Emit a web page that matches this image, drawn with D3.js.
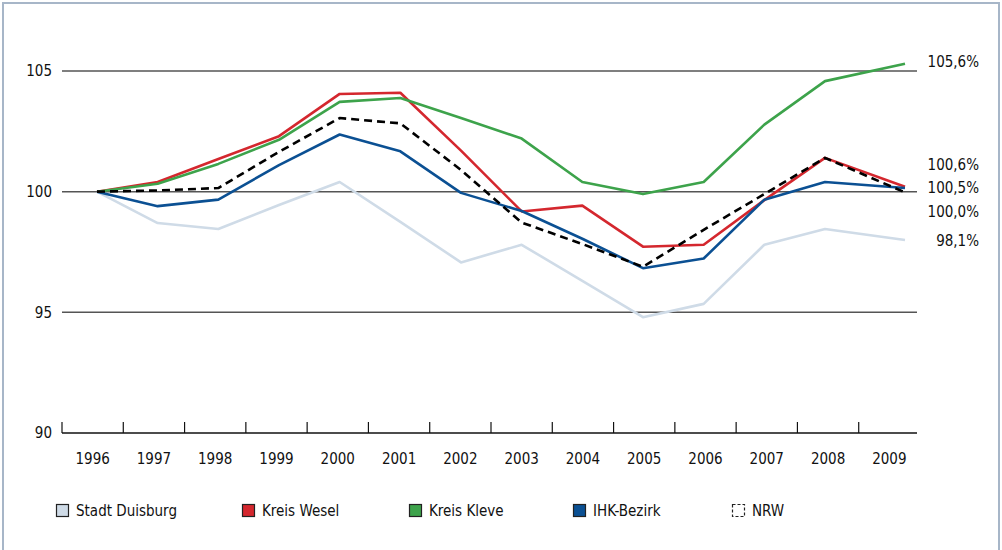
<!DOCTYPE html>
<html>
<head>
<meta charset="utf-8">
<script src="https://cdn.jsdelivr.net/npm/d3@7"></script>
<style>
  body { margin: 0; background: #fff; }
  svg text { font-family: "DejaVu Sans Condensed", "DejaVu Sans", sans-serif; fill: #111; }
</style>
</head>
<body>
<div id="chart"></div>
<script>
// data (index, 1996 = 100)
var years = [1996, 1997, 1998, 1999, 2000, 2001, 2002, 2003, 2004, 2005, 2006, 2007, 2008, 2009];
var stadtDuisburg = [100, 98.7, 98.45, 99.45, 100.4, 98.75, 97.07, 97.8, 96.3, 94.8, 95.35, 97.8, 98.45, 98.0];
var kreisWesel    = [100, 100.4, 101.35, 102.3, 104.05, 104.1, 101.7, 99.18, 99.42, 97.72, 97.8, 99.65, 101.4, 100.2];
var kreisKleve    = [100, 100.33, 101.15, 102.15, 103.72, 103.88, 103.05, 102.2, 100.4, 99.9, 100.4, 102.78, 104.58, 105.3];
var ihkBezirk     = [100, 99.4, 99.67, 101.1, 102.37, 101.67, 99.95, 99.2, 98.05, 96.83, 97.23, 99.67, 100.4, 100.15];
var nrw           = [100, 100.05, 100.15, 101.65, 103.05, 102.83, 100.9, 98.72, 97.83, 96.89, 98.42, 99.9, 101.4, 99.97];
var seriesNames = ["Stadt Duisburg", "Kreis Wesel", "Kreis Kleve", "IHK-Bezirk", "NRW"];
var yTicks = [90, 95, 100, 105];
var endLabels = ["105,6%", "100,6%", "100,5%", "100,0%", "98,1%"];
var endLabelAt = [105.4, 101.12, 100.15, 99.16, 97.95];

var colors = ["#cfdbe7", "#d4272e", "#3da34b", "#0b5093", "#000000"];
var allSeries = [stadtDuisburg, kreisWesel, kreisKleve, ihkBezirk, nrw];
var legendX = [56, 242, 409, 573, 732];

var width = 1002, height = 550;
var fontSize = 15;

var svg = d3.select("#chart").append("svg")
    .attr("width", width)
    .attr("height", height);

// frame
svg.append("rect")
    .attr("x", 3).attr("y", 3)
    .attr("width", 996).attr("height", 560)
    .attr("fill", "none")
    .attr("stroke", "#a7b6c8")
    .attr("stroke-width", 2);

var y = d3.scaleLinear().domain([90, 105]).range([433, 71]);

// the band scale gives tick marks and year labels
var band = d3.scaleBand().domain(years).range([62, 920]);

// data positions: the last year sits further right in the original
var x = d3.scaleLinear()
    .domain([1996, 2008, 2009])
    .range([97, 825, 905]);

// grid lines
svg.append("g").selectAll("line")
    .data(yTicks.filter(function(d) { return d > 90; }))
    .enter().append("line")
    .attr("x1", 62).attr("x2", 917)
    .attr("y1", function(d) { return y(d); })
    .attr("y2", function(d) { return y(d); })
    .attr("stroke", "#555")
    .attr("stroke-width", 1.5);

// y labels
svg.append("g").selectAll("text")
    .data(yTicks)
    .enter().append("text")
    .attr("x", 52)
    .attr("y", function(d) { return y(d); })
    .attr("dy", "0.35em")
    .attr("text-anchor", "end")
    .attr("font-size", fontSize)
    .text(function(d) { return d; });

// x axis
var axisG = svg.append("g");
axisG.append("line")
    .attr("x1", 62).attr("x2", 917)
    .attr("y1", y(90)).attr("y2", y(90))
    .attr("stroke", "#111")
    .attr("stroke-width", 1.5);

axisG.selectAll(".tick")
    .data(years)
    .enter().append("line")
    .attr("x1", function(d) { return band(d); })
    .attr("x2", function(d) { return band(d); })
    .attr("y1", y(90) - 11)
    .attr("y2", y(90))
    .attr("stroke", "#111")
    .attr("stroke-width", 1.2);

axisG.selectAll("text")
    .data(years)
    .enter().append("text")
    .attr("x", function(d) { return band(d) + band.bandwidth() / 2; })
    .attr("y", 464)
    .attr("text-anchor", "middle")
    .attr("font-size", fontSize)
    .text(function(d) { return d; });

// lines
var line = d3.line()
    .x(function(d, i) { return x(years[i]); })
    .y(function(d) { return y(d); });

svg.append("g").selectAll("path")
    .data(allSeries)
    .enter().append("path")
    .attr("d", function(d) { return line(d); })
    .attr("fill", "none")
    .attr("stroke", function(d, i) { return colors[i]; })
    .attr("stroke-width", 2.6)
    .attr("stroke-linejoin", "round")
    .attr("stroke-dasharray", function(d, i) { return i == 4 ? "8,5" : null; });

// end labels on the right
svg.append("g").selectAll("text")
    .data(endLabels)
    .enter().append("text")
    .attr("x", 979)
    .attr("y", function(d, i) { return y(endLabelAt[i]); })
    .attr("dy", "0.35em")
    .attr("text-anchor", "end")
    .attr("font-size", fontSize)
    .text(function(d) { return d; });

// legend
var legend = svg.append("g").selectAll("g")
    .data(seriesNames)
    .enter().append("g")
    .attr("transform", function(d, i) { return "translate(" + legendX[i] + ",504)"; });

legend.append("rect")
    .attr("x", 0.5).attr("y", 0.5)
    .attr("width", 12).attr("height", 12)
    .attr("fill", function(d, i) { return i == 4 ? "#fff" : colors[i]; })
    .attr("stroke", "#222")
    .attr("stroke-width", 1.2)
    .attr("stroke-dasharray", function(d, i) { return i == 4 ? "3,2" : null; });

legend.append("text")
    .attr("x", 20)
    .attr("y", 7)
    .attr("dy", "0.35em")
    .attr("font-size", fontSize)
    .text(function(d) { return d; });
</script>
</body>
</html>
